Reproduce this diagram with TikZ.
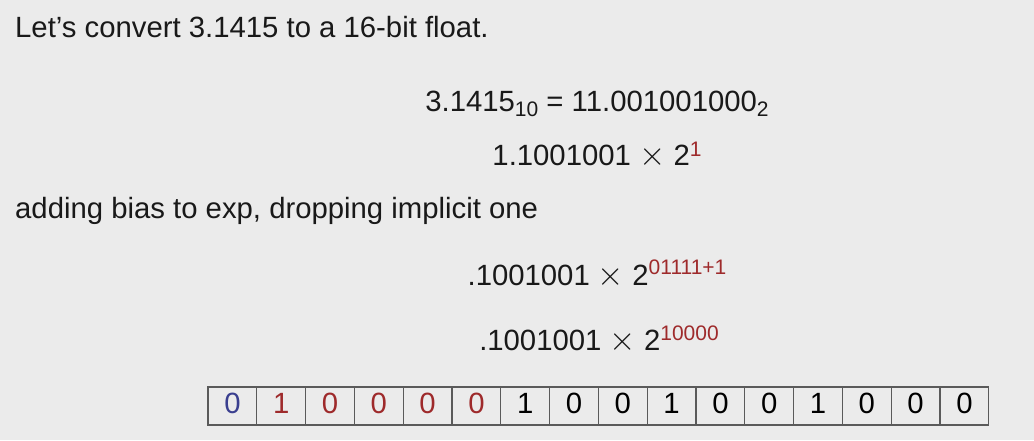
\documentclass[tikz,border=0pt]{standalone}
\usepackage{fontspec}
\usepackage{graphicx}
\setmainfont{Liberation Sans}
\usetikzlibrary{positioning}

\definecolor{slidebg}{HTML}{EBEBEB}
\definecolor{expred}{HTML}{9E2A2B}
\definecolor{sgnblue}{HTML}{3A3F8F}
\definecolor{cellline}{HTML}{5A5A5A}

\newcommand{\bigtimes}{\scalebox{1.36}{$\times$}}
\newcommand{\expo}[2][10pt]{\raisebox{#1}{\fontsize{21}{22}\selectfont\color{expred}#2}}
\newcommand{\base}[1]{\raisebox{-5pt}{\fontsize{21}{22}\selectfont#1}}

\begin{document}
\begin{tikzpicture}[x=1pt,y=1pt,font=\fontsize{29.3}{34}\selectfont,
        txt/.style={inner sep=0pt,text=black!90},
        bit/.style={draw=cellline,line width=1.1pt,minimum width=48.8pt,minimum height=38pt,
            inner sep=0pt,outer sep=0pt,text height=20pt,text depth=6pt}]
        \fill[slidebg] (0,0) rectangle (1034,-440);
        \useasboundingbox (0,0) rectangle (1034,-440);

        \node[txt,anchor=base west] (title) at (15,-37) {Let's convert 3.1415 to a 16-bit float.};
        \node[txt,anchor=base] (conv) at (597,-111) {3.1415\base{10} = 11.001001000\base{2}};
        \node[txt,anchor=base] (norm) at (597,-165) {1.1001001 \bigtimes{} 2\expo[9pt]{1}};
        \node[txt,anchor=base west] (note) at (15,-218) {adding bias to exp, dropping implicit one};
        \node[txt,anchor=base] (bias) at (597,-285) {.1001001 \bigtimes{} 2\expo[11pt]{01111+1}};
        \node[txt,anchor=base] (final) at (599,-350) {.1001001 \bigtimes{} 2\expo{10000}};

        % the 16 bits: sign, exponent, mantissa
        \coordinate (start) at (208,-406);
        \foreach \b/\c [count=\i, remember=\i as \j (initially 0)] in
            {0/sgnblue,1/expred,0/expred,0/expred,0/expred,0/expred,
             1/black,0/black,0/black,1/black,0/black,0/black,1/black,0/black,0/black,0/black}
        {
            \ifnum\i=1
                \node[bit,text=\c,anchor=west] (b\i) at (start) {\b};
            \else
                \node[bit,text=\c,right=0pt of b\j] (b\i) {\b};
            \fi
        }
    \end{tikzpicture}
\end{document}
